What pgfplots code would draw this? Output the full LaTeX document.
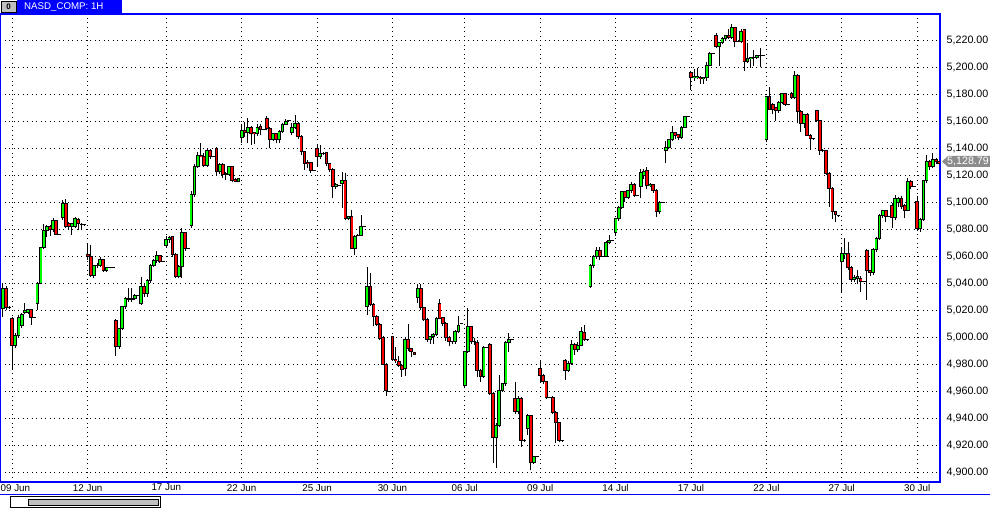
\documentclass[border=0pt]{standalone}
\usepackage{pgfplots}
\pgfplotsset{compat=1.18}
\usepackage{pgfplotstable}
\usepackage{fontspec}
\setmainfont{Liberation Sans}
\definecolor{cgreen}{RGB}{0,255,0}
\definecolor{cred}{RGB}{255,0,0}
\definecolor{frameblue}{RGB}{0,0,255}
\definecolor{tagGray}{RGB}{140,140,140}
\definecolor{barGray}{RGB}{192,192,192}
\pgfplotstableread{
k o h l c
-3 5021 5040 5015 5036
-2 5036 5038 5020 5022
-1 5022 5023 5021 5022
0 5014 5014.5 4976 4994
1 4994 5003 4992 5001
2 5001 5016 4999 5014.6
3 5008.6 5018 5007 5017
4 5018 5025 5017 5019.5
5 5018.5 5021 5017 5020.5
6 5020.5 5021 5009 5014.6
7 5014.6 5015 5014.3 5014.6
8 5025 5041 5020 5039.8
9 5039.8 5067 5039 5066.4
10 5066.4 5084 5065 5078.8
11 5078.8 5083 5074.3 5081.7
12 5081.7 5083 5075 5079.3
13 5079.8 5088 5078 5086.2
14 5086.2 5087 5075.5 5076.3
15 5076.3 5076.6 5076 5076.3
16 5088.7 5101.5 5087 5099
17 5099 5102 5081 5082.2
18 5084 5085.5 5079 5082.2
19 5082.2 5084 5075.6 5084
20 5082.2 5089 5081 5087.9
21 5087 5088.5 5079.3 5084.2
22 5083.5 5084.7 5079.3 5083
23 5083 5083.3 5082.7 5083
24 5061 5068.6 5057 5060
25 5060 5068.2 5044.7 5045.9
26 5045.9 5053.5 5043.5 5053.3
27 5053.3 5055 5051 5053
28 5053.3 5059 5052 5057.5
29 5057.5 5058 5048.5 5049.1
30 5049.1 5052 5048 5051.6
31 5051.6 5051.9 5051.3 5051.6
32 5051.6 5051.9 5051.3 5051.6
33 5012.6 5013 4985.9 4993.3
34 4993.3 5007 4991 5006.4
35 5006.4 5023 5005 5022.5
36 5022.5 5029.5 5021 5028.7
37 5028 5036 5026 5028.7
38 5028.7 5036 5026 5028
39 5028.7 5032 5027.5 5030.9
40 5030.9 5031.2 5030.6 5030.9
41 5024.5 5044.7 5023.7 5037.3
42 5037.3 5040 5030 5032.4
43 5032.4 5043 5030 5042.2
44 5042.2 5054 5040 5053.3
45 5053.3 5058 5052 5057
46 5057 5064 5055 5060.7
47 5060.2 5061 5055 5055.8
48 5055.8 5056.1 5055.5 5055.8
49 5068.1 5075 5066 5072.3
50 5072 5075 5070 5073.5
51 5074.3 5075 5059.5 5061.4
52 5061.4 5062 5043.4 5045.1
53 5045.1 5053 5043.4 5052.1
54 5052.1 5080.4 5043.4 5077.2
55 5077.2 5078 5064 5065.6
56 5065.6 5065.9 5065.3 5065.6
57 5082.9 5108.1 5081 5105.9
58 5105.9 5128.5 5104 5126.6
59 5126.6 5137 5125.5 5134.8
60 5134.8 5143.4 5133 5134
61 5133.5 5136 5126 5127.3
62 5127.3 5139 5126 5138
63 5138 5139 5132 5133.5
64 5133.5 5133.8 5133.2 5133.5
65 5139.7 5141 5119.2 5122.4
66 5122.4 5129 5121 5128.1
67 5128.1 5129 5118 5120.7
68 5120.7 5122.4 5116.3 5121
69 5120.7 5127 5119.5 5126.1
70 5126.1 5127 5115 5116.3
71 5116.8 5117.5 5114.5 5115.3
72 5115.3 5118 5115 5117.5
73 5147.9 5157.8 5144 5152.9
74 5152.9 5159.6 5148 5151.4
75 5151.4 5162 5144 5155.4
76 5155.4 5156 5142.3 5150.4
77 5151.4 5152 5143 5150.4
78 5150.4 5157.8 5149 5155.4
79 5156.3 5158 5150 5153.9
80 5153.9 5154.2 5153.6 5153.9
81 5162 5163.7 5153 5154.6
82 5154.6 5155.5 5139.8 5146.5
83 5146.5 5151 5145 5150.4
84 5150.4 5151 5143.5 5146
85 5146 5153 5143.5 5152.1
86 5152.1 5158.5 5151 5157.8
87 5157.8 5161.3 5157 5159.6
88 5160.3 5160.6 5160 5160.3
89 5151.4 5158.3 5150 5155.4
90 5155.4 5164.5 5154 5158.3
91 5158.3 5159 5147 5148.9
92 5148.9 5149.5 5135 5137.3
93 5137.3 5138 5123.8 5128.7
94 5129.5 5131 5125 5128.5
95 5129.2 5130 5121.8 5123.3
96 5123.3 5123.6 5123 5123.3
97 5139.7 5142.3 5126.1 5133.5
98 5133.5 5142.2 5132 5136
99 5136 5137 5135 5136.3
100 5136.5 5137 5127 5128.6
101 5128.6 5129 5122 5124.2
102 5124.2 5125 5102.7 5111.3
103 5111.3 5114 5110 5113.3
104 5112.6 5112.9 5112.3 5112.6
105 5113.8 5122.4 5095.3 5116.3
106 5116.3 5121.7 5087 5087.9
107 5087.9 5090 5087 5089.6
108 5089.6 5094 5065 5065.6
109 5065.6 5075.5 5060.7 5074.8
110 5075 5076 5074.5 5075.5
111 5075.5 5090.3 5074.5 5081.7
112 5081.7 5082 5081.4 5081.7
113 5022.4 5052.1 5016.3 5037.3
114 5037.3 5047.6 5023 5024.4
115 5024.4 5025 5008.1 5015.5
116 5015.5 5016 5008 5009.6
117 5009.6 5010.5 4998 4999
118 4999.7 5000.5 4979 4980
119 4980 4981 4956.3 4960.7
120 4959.5 4959.8 4959.2 4959.5
121 5000.2 5001 4982 4983.4
122 4983.4 4992.8 4981 4982.4
123 4981.7 4986 4978 4979.2
124 4979.2 4980 4970.6 4976
125 4976.8 4999 4971.1 4997.8
126 4997.8 5009.6 4990 4991.6
127 4991.6 4992 4985 4989.1
128 4988.4 4989 4986.5 4986.9
129 5029.4 5039.2 5024.9 5036
130 5036 5039.2 5020 5021.9
131 5021.9 5022.5 5012 5013.1
132 5013.1 5014 4996.5 4998.2
133 4998.2 5001 4994.8 5000.7
134 5000.7 5003 4995 5002.2
135 5002.2 5014.5 5001 5013.8
136 5024.9 5027.9 5013 5013.8
137 5014.5 5015 5008 5010.1
138 5010.1 5011 4997 4999.7
139 4999.7 5000.5 4993 4996.5
140 4996.5 4996.8 4994.5 4996.5
141 4996.5 5005 4995 5004.4
142 5004.4 5015.5 5003 5008.9
143 5010.1 5010.4 5009.8 5010.1
144 4964.4 4990 4961.9 4989.1
145 4989.1 5021.2 4988 5007.6
146 5007.6 5008.5 4995 4996.5
147 4996.5 4999 4994 4996.5
148 4995.8 4998 4970.6 4975.5
149 4975.5 4976 4966.9 4971.1
150 4971.1 4993.7 4970 4992.3
151 4992.3 4992.6 4992 4992.3
152 4994.8 4995.8 4957 4958.3
153 4958.3 4959 4906.9 4925.7
154 4925.7 4936 4902.7 4934.8
155 4934.8 4971.8 4933 4960.7
156 4960.7 4966 4959 4965.2
157 4965.2 4997 4964 4995.8
158 4995.8 5002.7 4989.1 4997.8
159 4998.3 4998.6 4998 4998.3
160 4954.6 4966.9 4943 4944.7
161 4944.7 4956 4943 4954.6
162 4954.6 4955.5 4918.8 4923.7
163 4923.7 4924.5 4922.5 4923.5
164 4932.4 4943 4927.4 4941.5
165 4941.5 4942 4901.5 4906.9
166 4906.9 4912 4906 4911.4
167 4911.4 4911.7 4911.1 4911.4
168 4976.8 4982.9 4966.2 4971.8
169 4971.8 4972.5 4965 4966.9
170 4966.9 4967.5 4954 4955.3
171 4955.3 4955.6 4955 4955.3
172 4955.3 4956 4943 4944
173 4944 4945 4921.2 4936.5
174 4936.5 4937 4922 4923.7
175 4923 4923.3 4922.7 4923
176 4982.5 4984 4968.1 4975.5
177 4975.5 4982 4974 4980.5
178 4980.5 4998 4979 4994.8
179 4994.8 4995.5 4987 4990.4
180 4990.4 4996 4989 4994
181 4994 5007.6 4993 5003.9
182 5003.2 5008.9 4997 4997.8
183 4997.8 4998.1 4997.5 4997.8
184 5037.3 5054 5036 5053.3
185 5053.3 5060.5 5051 5059.5
186 5059.5 5066.8 5058 5064.4
187 5064.4 5066.8 5057 5059.5
188 5059.5 5059.8 5059.2 5059.5
189 5059.5 5071 5059 5069.9
190 5069.9 5075.5 5069 5071.8
191 5071.3 5071.6 5071 5071.3
192 5077.3 5088.5 5074.8 5087.9
193 5087.9 5097 5086 5096
194 5096 5108 5095 5107.6
195 5107.6 5108.5 5100 5103.4
196 5103.4 5109 5102 5108.4
197 5108.4 5115 5107 5113.3
198 5113.3 5114 5104 5105.2
199 5105.2 5105.5 5104.9 5105.2
200 5111.4 5124.5 5103 5122
201 5120 5124.5 5117 5122.5
202 5123.2 5125.7 5110 5112.1
203 5112.1 5114 5111 5113
204 5112.9 5113.5 5107 5108.4
205 5108.9 5109.5 5088.7 5093.1
206 5093.1 5100.5 5091 5099.8
207 5099.8 5100.1 5099.5 5099.8
208 5138.1 5145.5 5128.7 5140.1
209 5140.1 5147 5139 5146
210 5146 5156 5145 5151.6
211 5151.6 5152 5147 5149.2
212 5149.9 5150.5 5146 5147.9
213 5147.9 5156.6 5147 5155.3
214 5155.3 5164 5154.5 5163.3
215 5163.3 5163.6 5163 5163.3
216 5196.1 5197 5183 5191.9
217 5191.9 5198.6 5190 5192.9
218 5192 5199.3 5191 5192.9
219 5192.4 5193 5187.5 5191.2
220 5191.2 5192.5 5187.5 5192
221 5191.9 5203.5 5190 5201.5
222 5201.5 5211 5200.5 5210.2
223 5210.2 5210.5 5209.9 5210.2
224 5223.3 5225 5214 5215.4
225 5215.4 5218.5 5201 5218.3
226 5218.3 5222 5217 5221.5
227 5221.5 5224 5220 5223.3
228 5223.3 5228.2 5221 5222
229 5222 5231.9 5221 5229.4
230 5229.4 5230 5214.6 5219.1
231 5219.1 5219.4 5218.8 5219.1
232 5219.1 5228 5218 5226.5
233 5227.5 5228.5 5197.3 5204.2
234 5204.2 5217.6 5203 5206
235 5206 5207.5 5199.3 5207
236 5207 5212.6 5201 5207.3
237 5207.3 5209 5206 5208.5
238 5208.5 5214 5199.8 5208.3
239 5208.5 5208.8 5208.2 5208.5
240 5146 5178.5 5144.3 5178.1
241 5178.1 5185 5168 5168.9
242 5172 5173 5165.2 5168.9
243 5169.7 5170.5 5160.3 5167.7
244 5167.7 5175 5166 5173.9
245 5173.9 5181 5172.5 5180.1
246 5180.1 5181 5171 5172.1
247 5172.1 5172.4 5171.8 5172.1
248 5180.5 5181.5 5176 5177.6
249 5177.6 5196.8 5176 5194.1
250 5194.1 5195 5158.3 5167.2
251 5166.9 5168.2 5152.1 5158.3
252 5158.3 5165.5 5155 5164.5
253 5165.2 5166 5148.9 5149.6
254 5149.6 5150.5 5138.5 5147.2
255 5146.7 5147 5146.4 5146.7
256 5167.7 5168.5 5159 5160.3
257 5160.3 5161 5134.8 5138.5
258 5138.5 5139 5137 5138
259 5138 5138.5 5120 5121.3
260 5121.3 5122 5096.6 5110.1
261 5110.1 5111 5087.2 5092.9
262 5092.9 5093.5 5085.5 5090.4
263 5089.7 5090 5089.4 5089.7
264 5055.8 5065.7 5033.6 5062
265 5061 5073.1 5058 5062
266 5062 5070.6 5050 5051.6
267 5051.6 5052.5 5041 5042.7
268 5042.7 5046 5041 5044.2
269 5043.5 5049.7 5039 5044.5
270 5043.5 5045 5033.6 5041
271 5041 5041.3 5040.7 5041
272 5064 5065 5027.4 5049.2
273 5049.2 5050 5045 5047.7
274 5047.7 5066 5046 5064.9
275 5064.9 5074 5063 5073.1
276 5073.1 5091 5072 5090.3
277 5090.3 5094 5088.5 5093.5
278 5093.5 5094 5085.5 5089.6
279 5089.6 5089.9 5089.3 5089.6
280 5097.7 5099 5080.5 5088.6
281 5088.6 5105.2 5087 5102.7
282 5100 5104 5096 5102.7
283 5102.7 5104.5 5095 5097
284 5097.7 5098.5 5087.9 5094
285 5094 5117.5 5093 5115
286 5115 5116 5110 5111.8
287 5111.8 5112.1 5111.5 5111.8
288 5100.2 5104.4 5078.5 5080.5
289 5080.5 5088 5077.5 5087.1
290 5087.1 5116.5 5086 5115.8
291 5115.8 5134.8 5114 5129.8
292 5129.8 5131 5124 5126.6
293 5126.6 5136 5125 5131.6
294 5131.6 5132.5 5128 5129.8
295 5129.8 5130 5128.5 5128.79
}\candles
\begin{document}
\begin{tikzpicture}
% bottom strip: separator line and scrollbar
\draw[frameblue, line width=1bp] (0bp,15bp) -- (990bp,15bp);
\draw[black, line width=1bp, fill=white] (10.5bp,2.5bp) rectangle (160.5bp,13bp);
\draw[black, line width=0.8bp, fill=barGray] (28.5bp,4.5bp) rectangle (158.5bp,11bp);
\begin{axis}[
  at={(0bp,28bp)}, anchor=south west,
  scale only axis, width=940bp, height=468bp,
  xmin=-3.915, xmax=295.26, ymin=4892.6, ymax=5239.3,
  axis line style={frameblue, line width=1.6bp},
  xtick={0,24,49,73,97,121,144,168,192,216,240,264,288},
  xticklabels={{\makebox[0pt][l]{\hspace{-11.6bp}09 Jun}},12 Jun,17 Jun,22 Jun,25 Jun,30 Jun,06 Jul,09 Jul,14 Jul,17 Jul,22 Jul,27 Jul,30 Jul},
  ytick={4900,4920,...,5220},
  yticklabel pos=right,
  major tick length=0pt,
  tick style={draw=none},
  grid=major,
  grid style={black, line width=0.9bp, dash pattern=on 0.9bp off 3.6bp},
  ticklabel style={text=black},
  xticklabel style={anchor=north, inner sep=0pt, yshift=-2bp, font=\fontsize{9.8bp}{11bp}\selectfont},
  yticklabel style={anchor=west, inner sep=0pt, xshift=6.5bp, font=\fontsize{10.7bp}{12bp}\selectfont,
    /pgf/number format/.cd, fixed, fixed zerofill, precision=2, 1000 sep={,}, assume math mode=true},
  candle/.style={draw=none, mark=none, forget plot,
    error bars/y dir=plus, error bars/y explicit, error bars/error mark=none},
]
% wicks
\addplot[candle, error bars/error bar style={draw=black, line width=1bp, line cap=butt}]
  table[x=k, y=l, y error expr=\thisrow{h}-\thisrow{l}] {\candles};
% body outline
\addplot[candle, error bars/error bar style={draw=black, line width=3.7bp, line cap=butt}]
  table[x=k, y expr={min(\thisrow{o},\thisrow{c})-0.37}, y error expr={abs(\thisrow{c}-\thisrow{o})+0.74}] {\candles};
% rising bodies
\addplot[candle, error bars/error bar style={draw=cgreen, line width=1.9bp, line cap=butt}]
  table[x=k, y expr={\thisrow{o}+0.37}, y error expr={(\thisrow{c}>\thisrow{o})*max(\thisrow{c}-\thisrow{o}-0.74,0)}] {\candles};
% falling bodies
\addplot[candle, error bars/error bar style={draw=cred, line width=1.9bp, line cap=butt}]
  table[x=k, y expr={\thisrow{c}+0.37}, y error expr={(\thisrow{o}>\thisrow{c})*max(\thisrow{o}-\thisrow{c}-0.74,0)}] {\candles};
\end{axis}
% last price tag
\fill[tagGray] (942bp,348.5bp) -- (948bp,354bp) -- (990bp,354bp) -- (990bp,343bp) -- (948bp,343bp) -- cycle;
\node[anchor=west, inner sep=0pt, text=white, font=\fontsize{10.7bp}{12bp}\selectfont] at (947bp,348.5bp) {5,128.79};
% title tab
\fill[frameblue] (17bp,496bp) rectangle (122bp,510bp);
\node[anchor=west, inner sep=0pt, text=white, font=\fontsize{9.7bp}{11bp}\selectfont] at (24bp,503bp) {NASD\_COMP: 1H};
\draw[black, fill=barGray, line width=0.8bp] (1.5bp,497.5bp) rectangle (16bp,509bp);
\node[inner sep=0pt, font=\bfseries\fontsize{8bp}{9bp}\selectfont] at (8.7bp,503.2bp) {0};
\pgfresetboundingbox
\path[use as bounding box] (0bp,0bp) rectangle (990bp,510bp);
\end{tikzpicture}
\end{document}
